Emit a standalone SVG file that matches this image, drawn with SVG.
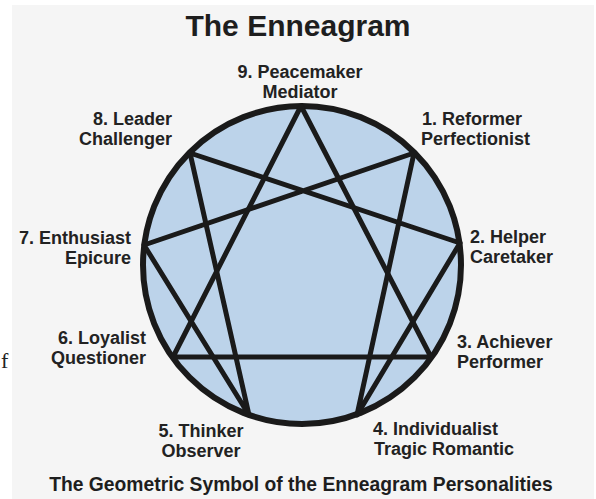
<svg xmlns="http://www.w3.org/2000/svg" width="596" height="499" viewBox="0 0 596 499">
  <style>
    .lbl { font-family: "Liberation Sans", Arial, sans-serif; font-weight: bold; font-size: 18px; fill: #222; }
    .title { font-family: "Liberation Sans", Arial, sans-serif; font-weight: bold; fill: #1e1e1e; text-anchor: middle; }
    .edge { stroke: #1a1a1a; stroke-width: 5; stroke-linecap: round; stroke-linejoin: round; fill: none; }
    .end { text-anchor: end; }
    .mid { text-anchor: middle; }
  </style>
  <rect x="0" y="0" width="596" height="499" fill="#ffffff"/>
  <rect x="12" y="5" width="582" height="494" fill="#f5f5f5"/>
  <text x="1" y="368" font-family="Liberation Serif, serif" font-size="22" fill="#222">f</text>

  <text class="title" x="298" y="36" font-size="30">The Enneagram</text>

  <g id="circle">
    <circle cx="302" cy="265" r="159" fill="#bcd3ea" stroke="#1a1a1a" stroke-width="6"/>
  </g>

  <g id="connectors">
    <!-- triangle 9-3-6 -->
    <polygon class="edge" points="301,106 431,357 173,357"/>
    <!-- hexad 1-4-2-8-5-7-1 -->
    <polygon class="edge" points="414,153 357,415 460,243 190,153 249,415 144,245"/>
  </g>

  <g id="n9"><text class="lbl mid" x="300" y="78">9. Peacemaker</text><text class="lbl mid" x="300" y="98">Mediator</text></g>
  <g id="n1"><text class="lbl" x="422" y="125">1. Reformer</text><text class="lbl" x="421" y="145">Perfectionist</text></g>
  <g id="n2"><text class="lbl" x="470" y="243">2. Helper</text><text class="lbl" x="470" y="263">Caretaker</text></g>
  <g id="n3"><text class="lbl" x="457" y="348">3. Achiever</text><text class="lbl" x="457" y="368">Performer</text></g>
  <g id="n4"><text class="lbl" x="373" y="435">4. Individualist</text><text class="lbl" x="374" y="455">Tragic Romantic</text></g>
  <g id="n5"><text class="lbl mid" x="201" y="437">5. Thinker</text><text class="lbl mid" x="201" y="457">Observer</text></g>
  <g id="n6"><text class="lbl end" x="146" y="344">6. Loyalist</text><text class="lbl end" x="146" y="364">Questioner</text></g>
  <g id="n7"><text class="lbl end" x="131" y="244">7. Enthusiast</text><text class="lbl end" x="131" y="264">Epicure</text></g>
  <g id="n8"><text class="lbl end" x="172" y="125">8. Leader</text><text class="lbl end" x="172" y="145">Challenger</text></g>

  <text class="title" x="301" y="491" font-size="19.3">The Geometric Symbol of the Enneagram Personalities</text>
</svg>
